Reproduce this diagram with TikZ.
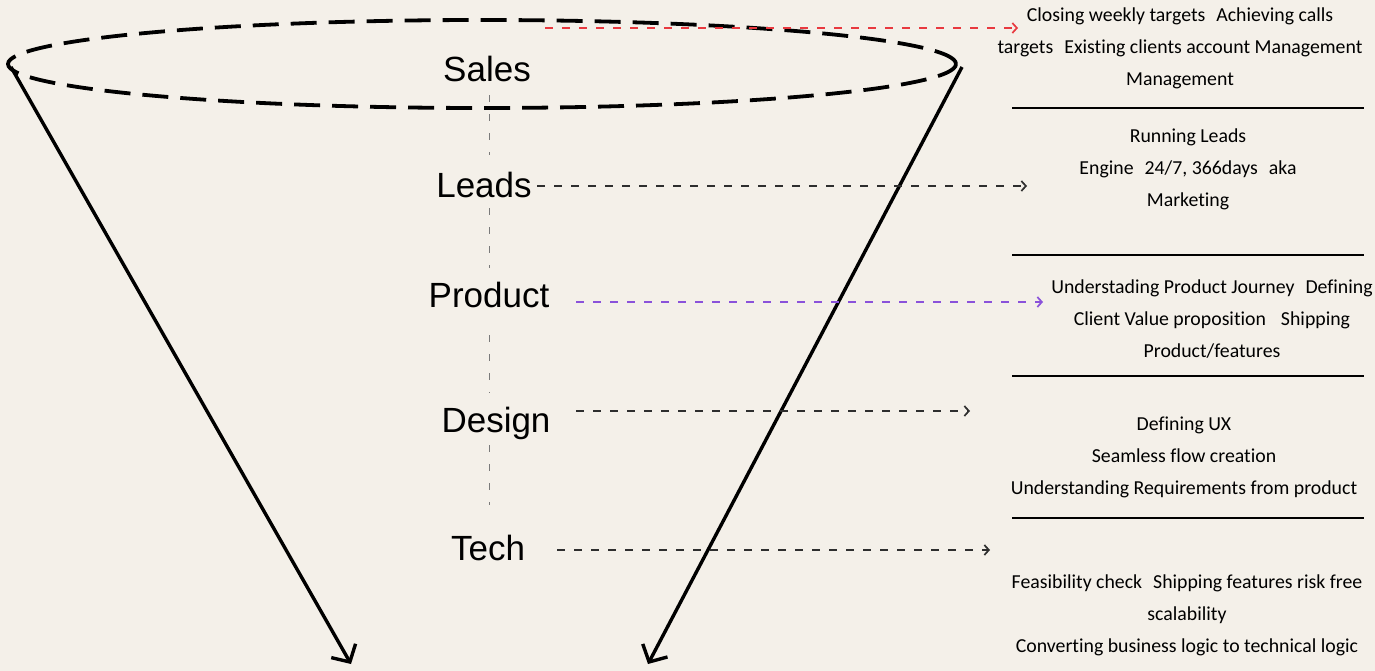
\documentclass[tikz,border=0pt]{standalone}
\usepackage{fontspec}
\setmainfont{Liberation Sans}
\newfontfamily\bodyfont[Ligatures=NoCommon]{Carlito}
\usetikzlibrary{arrows.meta}
\definecolor{bg}{HTML}{F4F0E9}
\definecolor{salesred}{HTML}{E8393F}
\definecolor{prodpurple}{HTML}{8A52DA}
\definecolor{darkdash}{HTML}{2E2E2E}
\definecolor{spinegray}{HTML}{7A7A7A}
\newcommand{\wg}{\hspace{11pt}}
\begin{document}
\begin{tikzpicture}[x=1pt,y=-1pt,
  lab/.style={font=\fontsize{35}{40}\selectfont, inner sep=0pt, text height=27pt, text depth=5pt, anchor=base},
  blk/.style={font=\bodyfont\fontsize{19.8}{32}\selectfont, align=center, inner sep=0pt},
  funnelrim/.style={line width=3.8pt, dash pattern=on 26pt off 12pt},
  funnelside/.style={line width=3.4pt, -{Straight Barb[length=13pt,width=28pt]}},
  spineline/.style={spinegray, line width=1pt, dash pattern=on 7pt off 12pt},
  darr/.style={line width=1.7pt, dash pattern=on 8pt off 9pt, -{Straight Barb[length=4.5pt,width=10pt]}},
  sepline/.style={line width=1.2pt}
]
\fill[bg] (0,0) rectangle (1375,671);
\useasboundingbox (0,0) rectangle (1375,671);

% funnel rim and sides
\draw[funnelrim] (482,64) ellipse [x radius=474pt, y radius=44pt];
\coordinate (ltop) at (11,67);
\coordinate (lbot) at (351,664);
\coordinate (rtop) at (962,67);
\coordinate (rbot) at (648,664);
\draw[funnelside] (ltop) -- (lbot);
\draw[funnelside] (rtop) -- (rbot);

% labels
\node[lab] (sales) at (487,82) {Sales};
\node[lab] (leads) at (484,197) {Leads};
\node[lab] (product) at (489,307) {Product};
\node[lab] (design) at (496,432) {Design};
\node[lab] (tech) at (488,560) {Tech};

% spine
\coordinate (spine) at (489,0);
\draw[spineline, shorten <=8pt, shorten >=15pt] (sales.south -| spine) -- (leads.north -| spine);
\draw[spineline, shorten <=6pt, shorten >=12pt] (leads.south -| spine) -- (product.north -| spine);
\draw[spineline, shorten <=23pt, shorten >=12pt] (product.south -| spine) -- (design.north -| spine);
\draw[spineline, shorten <=8pt, shorten >=28pt] (design.south -| spine) -- (tech.north -| spine);

% text blocks
\node[blk] (t1) at (1180,48.5) {Closing weekly targets\wg Achieving calls\\targets\wg Existing clients account Management\\Management};
\node[blk] (t2) at (1188,169) {Running Leads\\Engine\wg 24/7, 366days\wg aka\\Marketing};
\node[blk] (t3) at (1212,319.5) {Understading Product Journey\wg Defining\\Client Value proposition\hspace{15pt}Shipping\\Product/features};
\node[blk] (t4) at (1184,457) {Defining UX\\Seamless flow creation\\Understanding Requirements from product};
\node[blk] (t5) at (1187,615) {Feasibility check\wg Shipping features risk free\\scalability\\Converting business logic to technical logic};

% separators
\draw[sepline] (1012,108) -- (1364,108);
\draw[sepline] (1012,255) -- (1364,255);
\draw[sepline] (1012,376) -- (1364,376);
\draw[sepline] (1012,518) -- (1364,518);

% dashed arrows
\coordinate (a1s) at (545,28);  \coordinate (a1e) at (1018,28);
\coordinate (a2s) at (537,186); \coordinate (a2e) at (1027,186);
\coordinate (a3s) at (576,302); \coordinate (a3e) at (1043,302);
\coordinate (a4s) at (576,411); \coordinate (a4e) at (970,411);
\coordinate (a5s) at (557,550); \coordinate (a5e) at (990,550);
\draw[darr, salesred] (a1s) -- (a1e);
\draw[darr, darkdash] (a2s) -- (a2e);
\draw[darr, prodpurple] (a3s) -- (a3e);
\draw[darr, darkdash] (a4s) -- (a4e);
\draw[darr, darkdash] (a5s) -- (a5e);
\end{tikzpicture}
\end{document}
